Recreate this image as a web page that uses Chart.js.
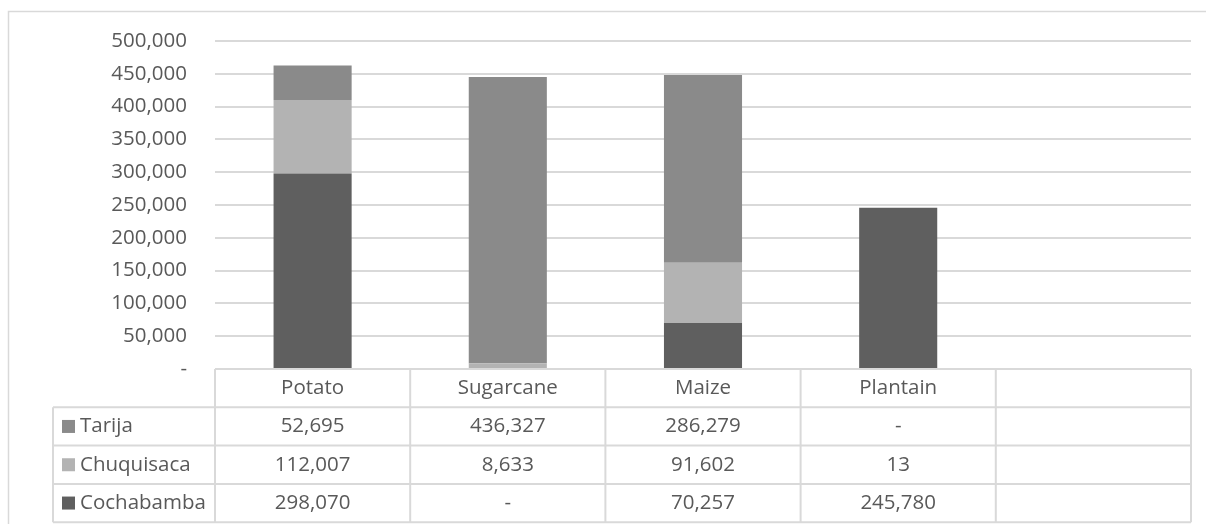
<!DOCTYPE html>
<html>
<head>
<meta charset="utf-8">
<script src="https://cdn.jsdelivr.net/npm/chart.js@4"></script>
<style>
  html, body { margin: 0; padding: 0; background: #fff; }
  #wrap { width: 1206px; height: 524px; position: relative; }
</style>
</head>
<body>
<div id="wrap"><canvas id="chart" width="1206" height="524"></canvas></div>
<script>
// Data
const categories = ["Potato", "Sugarcane", "Maize", "Plantain", ""];
const tarija = [52695, 436327, 286279, 0, null];
const chuquisaca = [112007, 8633, 91602, 13, null];
const cochabamba = [298070, 0, 70257, 245780, null];
const yTicks = [0, 50000, 100000, 150000, 200000, 250000, 300000, 350000, 400000, 450000, 500000];

const textColor = "#595959";
const lineColor = "#d9d9d9";
const fontFamily = "'Open Sans', sans-serif";
const fontSize = 20.5;

function fmt(v) {
  if (v === null || v === undefined) return "";
  return v === 0 ? "-" : v.toLocaleString("en-US");
}

// Series in table order (top to bottom)
const series = [
  { label: "Tarija", data: tarija, color: "#8a8a8a" },
  { label: "Chuquisaca", data: chuquisaca, color: "#b3b3b3" },
  { label: "Cochabamba", data: cochabamba, color: "#5f5f5f" }
];

// Outer frame and data table under the plot
const tablePlugin = {
  id: "dataTable",
  beforeDraw(chart) {
    const ctx = chart.ctx;
    ctx.save();
    ctx.fillStyle = "#fff";
    ctx.fillRect(0, 0, chart.width, chart.height);
    ctx.strokeStyle = lineColor;
    ctx.lineWidth = 1.5;
    ctx.strokeRect(8.5, 11.5, chart.width + 20, chart.height + 20);
    ctx.restore();
  },
  afterDraw(chart) {
    const ctx = chart.ctx;
    const x = chart.scales.x;
    const area = chart.chartArea;
    const colW = x.width / categories.length;
    const rowH = 38.3;
    const top = area.bottom;
    const labelLeft = 53;
    const right = area.right;

    ctx.save();
    ctx.strokeStyle = lineColor;
    ctx.lineWidth = 2;
    ctx.beginPath();
    // header top
    ctx.moveTo(area.left, top);
    ctx.lineTo(right, top);
    // row lines
    for (let r = 1; r <= series.length + 1; r++) {
      const y = top + r * rowH;
      ctx.moveTo(labelLeft, y);
      ctx.lineTo(right, y);
    }
    // legend column left edge
    ctx.moveTo(labelLeft, top + rowH);
    ctx.lineTo(labelLeft, top + rowH * (series.length + 1));
    // column edges
    for (let i = 0; i <= categories.length; i++) {
      const cx = area.left + i * colW;
      ctx.moveTo(cx, top);
      ctx.lineTo(cx, top + rowH * (series.length + 1));
    }
    ctx.stroke();

    ctx.font = fontSize + "px " + fontFamily;
    ctx.fillStyle = textColor;
    ctx.textBaseline = "middle";
    ctx.textAlign = "center";
    categories.forEach((c, i) => {
      ctx.fillText(c, x.getPixelForValue(i), top + rowH / 2);
    });
    series.forEach((s, r) => {
      const cy = top + rowH * (r + 1) + rowH / 2;
      ctx.fillStyle = s.color;
      ctx.fillRect(62, cy - 6.5, 13, 13);
      ctx.fillStyle = textColor;
      ctx.textAlign = "left";
      ctx.fillText(s.label, 80, cy);
      ctx.textAlign = "center";
      s.data.forEach((v, i) => {
        ctx.fillText(fmt(v), x.getPixelForValue(i), cy);
      });
    });
    ctx.restore();
  }
};

// Stack order: bottom series first
const datasets = series.slice().reverse().map(s => ({
  label: s.label,
  data: s.data,
  backgroundColor: s.color,
  borderWidth: 0,
  categoryPercentage: 1,
  barPercentage: 0.4
}));

new Chart(document.getElementById("chart"), {
  type: "bar",
  data: { labels: categories, datasets: datasets },
  plugins: [tablePlugin],
  options: {
    responsive: false,
    animation: false,
    layout: { padding: { left: 0, top: 41, right: 15, bottom: 155 } },
    plugins: {
      legend: { display: false },
      tooltip: { enabled: false }
    },
    scales: {
      x: {
        stacked: true,
        display: false
      },
      y: {
        stacked: true,
        min: 0,
        max: 500000,
        afterFit(scale) { scale.width = 215; },
        afterBuildTicks(scale) { scale.ticks = yTicks.map(v => ({ value: v })); },
        border: { display: false },
        grid: { color: lineColor, lineWidth: 2, drawTicks: false },
        ticks: {
          padding: 28,
          color: textColor,
          font: { family: fontFamily, size: fontSize },
          callback: v => fmt(v)
        }
      }
    }
  }
});
</script>
</body>
</html>
